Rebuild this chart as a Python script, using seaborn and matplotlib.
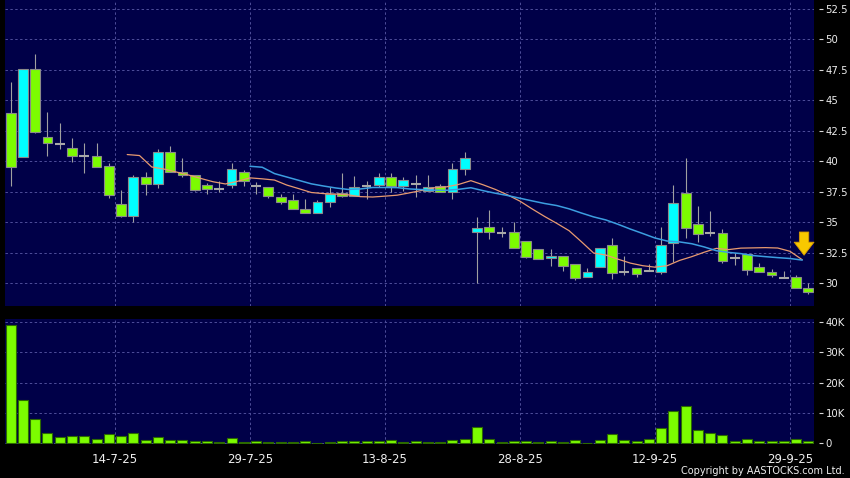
import numpy as np
import pandas as pd
import seaborn as sns
import matplotlib.pyplot as plt
from matplotlib.ticker import FixedLocator, FuncFormatter

# trading days 30-6-25 .. 30-9-25 (1-7 is a HK holiday)
dates = pd.bdate_range('2025-06-30', '2025-09-30').drop(pd.Timestamp('2025-07-01'))
label_dates = ['2025-07-14', '2025-07-29', '2025-08-13', '2025-08-28', '2025-09-12', '2025-09-29']

opens = [43.95, 40.35, 47.55, 41.95, 41.40, 41.05, 40.40, 40.40, 39.60, 36.50,
         35.50, 38.75, 38.10, 40.75, 39.10, 38.85, 38.05, 37.75, 38.05, 39.10,
         37.95, 37.85, 37.05, 36.80, 36.05, 35.80, 36.65, 37.40, 37.15, 38.00,
         38.05, 38.75, 37.95, 38.10, 37.60, 38.00, 37.45, 39.35, 34.20, 34.60,
         34.15, 34.20, 33.50, 32.80, 32.05, 32.20, 31.55, 30.55, 31.30, 33.10,
         30.90, 31.25, 31.00, 30.90, 33.30, 37.40, 34.85, 34.10, 34.15, 32.05,
         32.40, 31.35, 30.90, 30.45, 30.55, 29.60]
highs = [46.50, 47.55, 48.80, 44.05, 43.10, 41.90, 41.50, 41.50, 39.85, 37.65,
         38.90, 39.10, 41.00, 41.25, 40.25, 38.85, 38.25, 38.40, 39.85, 39.30,
         38.30, 37.85, 37.30, 37.30, 36.90, 36.85, 37.85, 39.00, 38.80, 38.35,
         39.00, 39.00, 38.75, 38.90, 38.90, 38.10, 39.85, 40.75, 35.40, 36.00,
         34.60, 35.05, 33.50, 32.80, 32.80, 32.20, 31.55, 31.25, 32.85, 33.70,
         32.25, 31.25, 31.60, 34.60, 38.05, 40.25, 36.30, 35.95, 34.45, 32.45,
         32.40, 31.70, 31.15, 31.00, 30.70, 30.00]
lows = [38.00, 40.35, 42.30, 40.45, 41.00, 39.95, 39.00, 39.50, 36.95, 35.45,
        35.00, 37.25, 37.80, 39.10, 38.75, 37.55, 37.30, 37.50, 37.80, 38.00,
        37.30, 36.95, 36.50, 36.05, 35.80, 35.80, 36.25, 37.10, 37.15, 36.90,
        37.90, 37.45, 37.60, 37.05, 37.60, 37.45, 36.90, 38.85, 30.00, 33.60,
        33.80, 32.85, 32.05, 31.95, 31.45, 31.00, 30.25, 30.55, 31.30, 30.35,
        30.65, 30.50, 31.00, 30.75, 31.75, 33.70, 33.40, 33.90, 31.70, 31.50,
        30.70, 30.90, 30.50, 30.45, 29.60, 29.10]
closes = [39.50, 47.55, 42.40, 41.50, 41.40, 40.45, 40.40, 39.50, 37.20, 35.55,
          38.75, 38.10, 40.75, 39.10, 38.85, 37.65, 37.70, 37.75, 39.35, 38.35,
          37.95, 37.15, 36.65, 36.05, 35.80, 36.70, 37.30, 37.15, 37.90, 38.00,
          38.70, 37.95, 38.50, 38.10, 37.90, 37.45, 39.35, 40.25, 34.50, 34.20,
          34.15, 32.85, 32.15, 31.95, 32.25, 31.40, 30.40, 30.90, 32.85, 30.80,
          30.90, 30.75, 31.00, 33.10, 36.55, 34.50, 34.05, 34.10, 31.80, 32.05,
          31.10, 30.90, 30.70, 30.45, 29.60, 29.30]
volumes = [38900, 14200, 7900, 3400, 2100, 2300, 2400, 1400, 2900, 2400,
           3400, 1200, 2100, 1100, 1100, 900, 700, 300, 1600, 500,
           700, 400, 400, 400, 700, 200, 400, 700, 700, 700,
           700, 1100, 400, 700, 400, 400, 1100, 1500, 5500, 1300,
           400, 900, 800, 400, 800, 400, 1000, 200, 1100, 3200,
           1200, 700, 1300, 5000, 10600, 12300, 4300, 3500, 2700, 800,
           1300, 700, 700, 600, 1400, 700]

# moving averages as drawn on the chart (10-day from 11-7, 20-day from 25-7)
ma10 = [40.55, 40.47, 39.53, 39.36, 39.12, 38.87, 38.59, 38.32, 38.14, 38.36,
        38.64, 38.56, 38.46, 38.05, 37.75, 37.44, 37.35, 37.31, 37.25, 37.10,
        37.07, 37.14, 37.22, 37.41, 37.61, 37.82, 37.90, 38.10, 38.41, 38.07,
        37.69, 37.24, 36.73, 36.09, 35.48, 34.91, 34.31, 33.41, 32.48, 32.31,
        31.97, 31.65, 31.44, 31.32, 31.44, 31.87, 32.18, 32.54, 32.86, 32.76,
        32.88, 32.90, 32.92, 32.89, 32.62, 31.93]
ma20 = [39.59, 39.51, 38.99, 38.71, 38.43, 38.15, 37.97, 37.81, 37.69, 37.73,
        37.85, 37.85, 37.84, 37.73, 37.68, 37.63, 37.62, 37.70, 37.83, 37.59,
        37.38, 37.19, 36.97, 36.75, 36.54, 36.37, 36.10, 35.76, 35.44, 35.19,
        34.83, 34.44, 34.08, 33.71, 33.46, 33.39, 33.24, 32.98, 32.67, 32.53,
        32.43, 32.27, 32.18, 32.10, 32.03, 31.90]

df = pd.DataFrame({'date': dates, 'open': opens, 'high': highs, 'low': lows,
                   'close': closes, 'volume': volumes})
df['pos'] = np.arange(len(df))
n = len(df)

sns.set_style('dark')
plt.rcParams['font.family'] = ['DejaVu Sans']

bg = '#000048'
grid_c = '#4e4e9a'
txt_c = '#eeeeee'
green = '#7cfc00'
cyan = '#00ffff'

fig = plt.figure(figsize=(8.5, 4.78), dpi=100, facecolor='black')
ax = fig.add_axes([4.5 / 850, 1 - 305.7 / 478, 810 / 850, 305.7 / 478])
axv = fig.add_axes([4.5 / 850, 1 - 444.3 / 478, 810 / 850, 125.3 / 478])

tick_pos = [df.index[df['date'] == pd.Timestamp(d)][0] - 0.5 for d in label_dates]
tick_lab = [pd.Timestamp(d).strftime('%-d-%-m-%y') for d in label_dates]

for a in (ax, axv):
    a.set_facecolor(bg)
    for s in a.spines.values():
        s.set_visible(False)
    a.xaxis.set_major_locator(FixedLocator(tick_pos))
    a.grid(True, color=grid_c, linestyle=(0, (2.5, 2.5)), linewidth=0.7)
    a.set_axisbelow(True)
    a.yaxis.tick_right()
    a.spines['right'].set_position(('outward', 3.5))
    a.tick_params(axis='y', colors='#d8d8d8', labelcolor=txt_c, length=2.6,
                  width=0.8, pad=1.8, labelsize=7.3)

# candles
up = df[df['close'] > df['open']]
dn = df[df['close'] < df['open']]
flat = df[df['close'] == df['open']]
ax.vlines(df['pos'], df['low'], df['high'], color='#a0a0a0', lw=0.8, zorder=2)
ax.bar(up['pos'], up['close'] - up['open'], bottom=up['open'], width=0.8,
       color=cyan, edgecolor='#8a8a8a', linewidth=0.8, zorder=3)
ax.bar(dn['pos'], dn['open'] - dn['close'], bottom=dn['close'], width=0.8,
       color=green, edgecolor='#8a8a8a', linewidth=0.8, zorder=3)
ax.hlines(flat['close'], flat['pos'] - 0.4, flat['pos'] + 0.4, color='#a8a8a8',
          lw=1.5, zorder=3)

sns.lineplot(x=np.arange(9, 9 + len(ma10)) + 0.5, y=ma10, ax=ax, color='#e89a70',
             linewidth=0.9, zorder=4)
sns.lineplot(x=np.arange(19, 19 + len(ma20)) + 0.5, y=ma20, ax=ax, color='#3c9ee0',
             linewidth=1.1, zorder=4)

ax.annotate('', xy=(64.65, 32.3), xytext=(64.65, 34.2),
            arrowprops=dict(arrowstyle='simple,head_length=0.36,head_width=0.55,tail_width=0.26',
                            mutation_scale=26, fc='#f8c800', ec='#d89a00', lw=0.6,
                            shrinkA=0, shrinkB=0), zorder=5)

ax.set_xlim(-0.5, n - 0.5)
ax.set_ylim(28.16, 53.22)
ax.set_yticks(np.arange(30, 52.6, 2.5))
ax.yaxis.set_major_formatter(FuncFormatter(lambda v, p: f'{v:g}'))
ax.tick_params(axis='x', length=0, labelbottom=False)
ax.set_xlabel('')
ax.set_ylabel('')

# volume
sns.barplot(x=df['pos'], y=df['volume'], ax=axv, native_scale=True, width=0.82,
            color=green, saturation=1, edgecolor='#2c6a00', linewidth=0.8,
            errorbar=None, zorder=3)
axv.set_xlim(-0.5, n - 0.5)
axv.set_ylim(-330, 40900)
axv.set_yticks([0, 10000, 20000, 30000, 40000])
axv.yaxis.set_major_formatter(FuncFormatter(lambda v, p: '0' if v == 0 else f'{v / 1000:.0f}K'))
axv.xaxis.set_major_locator(FixedLocator(tick_pos))
axv.set_xticklabels(tick_lab)
axv.spines['bottom'].set_position(('outward', 1.5))
axv.tick_params(axis='x', colors='#d8d8d8', labelcolor=txt_c, length=2.5, width=0.8,
                pad=2.5, labelsize=8.5)
axv.set_xlabel('')
axv.set_ylabel('')

fig.text(845 / 850, 1 - 471 / 478, 'Copyright by AASTOCKS.com Ltd.', ha='right',
         va='center', fontsize=7, color=txt_c)

fig.savefig('out.png', dpi=100, facecolor='black')
